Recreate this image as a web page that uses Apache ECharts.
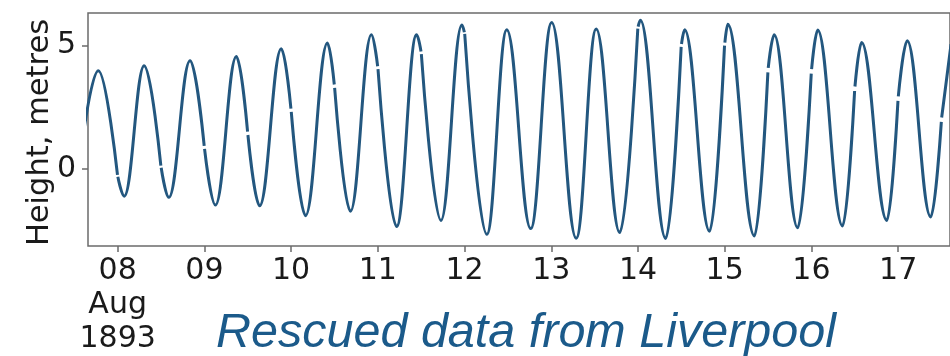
<!DOCTYPE html>
<html>
<head>
<meta charset="utf-8">
<title>Liverpool tide 1893</title>
<script src="https://cdn.jsdelivr.net/npm/echarts@6/dist/echarts.min.js"></script>
<style>
  html, body { margin: 0; padding: 0; background: #fff; }
  #main { width: 950px; height: 356px; }
</style>
</head>
<body>
<div id="main"></div>
<script>
// high / low water (day of Aug 1893, metres)
var highTimes = [7.777, 8.306, 8.835, 9.369, 9.887, 10.419, 10.926, 11.447, 11.969, 12.487,
  13.005, 13.518, 14.028, 14.538, 15.036, 15.570, 16.072, 16.578, 17.104, 17.610];
var highHeights = [3.98, 4.18, 4.38, 4.55, 4.87, 5.10, 5.43, 5.43, 5.83, 5.63,
  5.93, 5.66, 6.02, 5.63, 5.86, 5.43, 5.62, 5.12, 5.19, 5.05];
var lowTimes = [7.520, 8.076, 8.590, 9.127, 9.637, 10.166, 10.684, 11.217, 11.728, 12.257,
  12.763, 13.288, 13.790, 14.320, 14.826, 15.343, 15.842, 16.359, 16.870, 17.376];
var lowHeights = [-0.90, -1.09, -1.14, -1.45, -1.48, -1.88, -1.70, -2.32, -2.07, -2.63,
  -2.40, -2.79, -2.56, -2.80, -2.51, -2.70, -2.37, -2.30, -2.07, -1.93];

// breaks between the 12-hour record sheets: time, height just before, height just after
var breakTimes = [8.0, 8.5, 9.0, 9.5, 10.0, 10.5, 11.0, 11.5, 12.0,
  14.0, 14.5, 15.0, 15.5, 16.0, 16.5, 17.0, 17.5];
var breakBefore = [-0.23, 0.14, 0.94, 1.52, 2.45, 3.42, 4.16, 4.75, 5.53,
  5.68, 4.94, 4.99, 3.91, 3.86, 3.16, 2.76, 1.91];
var breakAfter = [-0.31, 0.06, 0.82, 1.38, 2.31, 3.28, 4.04, 4.65, 5.47,
  5.76, 5.06, 5.11, 4.09, 4.04, 3.34, 2.94, 2.09];
var breakHalf = 0.002;

var tickDays = [8, 9, 10, 11, 12, 13, 14, 15, 16, 17];
var tickLabels = ['08\nAug\n1893', '09', '10', '11', '12', '13', '14', '15', '16', '17'];
var yTicks = [0, 5];

var pts = [];
highTimes.forEach(function (t, i) { pts.push([t, highHeights[i]]); });
lowTimes.forEach(function (t, i) { pts.push([t, lowHeights[i]]); });
breakTimes.forEach(function (t, i) {
  pts.push([t - breakHalf, breakBefore[i]]);
  pts.push([t, '-']);
  pts.push([t + breakHalf, breakAfter[i]]);
});
pts.sort(function (a, b) { return a[0] - b[0]; });

var myChart = echarts.init(document.getElementById('main'), null, { renderer: 'canvas' });
var axisFont = 'DejaVu Sans';
var option = {
  backgroundColor: '#fff',
  animation: false,
  title: {
    text: 'Rescued data from Liverpool',
    left: 216,
    top: 310,
    padding: 0,
    textStyle: {
      fontFamily: 'Liberation Sans',
      fontStyle: 'italic',
      fontWeight: 'normal',
      fontSize: 48.5,
      color: '#1b5a8a'
    }
  },
  grid: {
    left: 88, top: 13, right: -2, bottom: 106,
    show: true,
    borderColor: '#6b6b6b',
    borderWidth: 1.5
  },
  xAxis: {
    type: 'value',
    min: 7.658,
    max: 17.598,
    axisLine: { show: false, onZero: false },
    splitLine: { show: false },
    axisTick: {
      show: true, length: 6, customValues: tickDays,
      lineStyle: { color: '#6b6b6b', width: 1.5 }
    },
    axisLabel: {
      customValues: tickDays,
      margin: 8,
      fontFamily: axisFont,
      fontSize: 30,
      lineHeight: 34,
      color: '#1a1a1a',
      formatter: function (v) {
        var i = tickDays.indexOf(Math.round(v));
        return i >= 0 ? tickLabels[i] : '';
      }
    }
  },
  yAxis: {
    type: 'value',
    min: -3.105,
    max: 6.31,
    name: 'Height, metres',
    nameLocation: 'middle',
    nameGap: 32,
    nameMoveOverlap: false,
    nameTextStyle: { fontFamily: axisFont, fontSize: 30.5, color: '#1a1a1a', padding: [0, 6, 0, 0] },
    axisLine: { show: false, onZero: false },
    splitLine: { show: false },
    axisTick: {
      show: true, length: 6, customValues: yTicks,
      lineStyle: { color: '#6b6b6b', width: 1.5 }
    },
    axisLabel: {
      customValues: yTicks,
      margin: 12,
      fontFamily: axisFont,
      fontSize: 30,
      color: '#1a1a1a'
    }
  },
  series: [{
    type: 'line',
    data: pts,
    showSymbol: false,
    smooth: 0.4,
    smoothMonotone: 'x',
    connectNulls: false,
    lineStyle: { color: '#23577f', width: 3 }
  }]
};
myChart.setOption(option);
</script>
</body>
</html>
